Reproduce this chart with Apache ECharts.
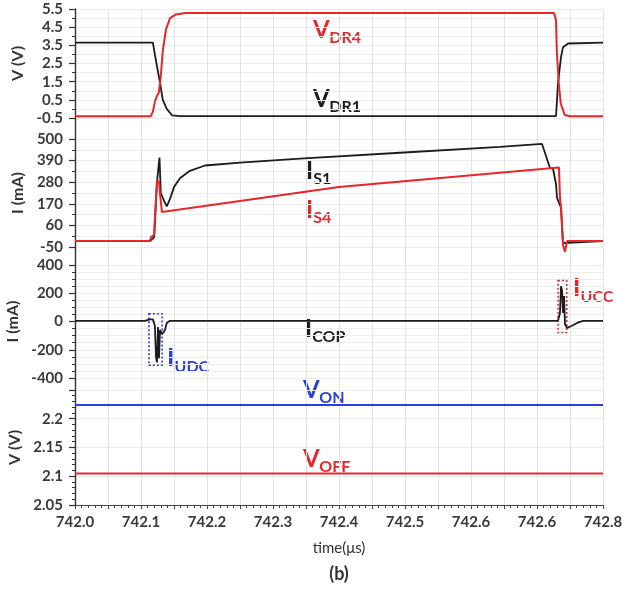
<!DOCTYPE html>
<html>
<head>
<meta charset="utf-8">
<script src="https://cdn.jsdelivr.net/npm/echarts@6/dist/echarts.min.js"></script>
<style>
  html, body { margin: 0; padding: 0; background: #fff; }
  #chart { width: 624px; height: 590px; }
</style>
</head>
<body>
<div id="chart"></div>
<script>
  // x axis tick labels (as printed on the figure)
  var xLabels = ['742.0', '742.1', '742.2', '742.3', '742.4', '742.5', '742.6', '742.6', '742.8'];

  // y tick values per panel
  var vdrTicks = [-0.5, 0.5, 1.5, 2.5, 3.5, 4.5, 5.5];
  var isTicks = [-50, 60, 170, 280, 390, 500];
  var copTicks = [-400, -200, 0, 200, 400];
  var vrefTicks = [2.05, 2.1, 2.15, 2.2, 2.25];

  // panel 1: gate drive voltages (V)
  var vdr1 = [[742.0, 3.65], [742.118, 3.65], [742.121, 3.0], [742.124, 2.4], [742.129, 1.4], [742.133, 0.5],
    [742.139, 0.0], [742.147, -0.35], [742.159, -0.4], [742.7288, -0.4], [742.7318, 1.4], [742.7364, 2.86],
    [742.7394, 3.4], [742.747, 3.6], [742.8, 3.65]];
  var vdr4 = [[742.0, -0.4], [742.115, -0.4], [742.118, -0.15], [742.121, 0.4], [742.124, 0.7], [742.127, 0.9],
    [742.130, 1.8], [742.133, 3.2], [742.138, 4.4], [742.144, 5.0], [742.153, 5.2], [742.167, 5.28],
    [742.7258, 5.28], [742.7288, 4.9], [742.730, 3.2], [742.733, 1.4], [742.736, 0.3], [742.742, -0.33],
    [742.75, -0.4], [742.8, -0.4]];

  // panel 2: switch currents (mA)
  var is1 = [[742.0, -20], [742.1136, -20], [742.12, 0], [742.1242, 280], [742.128, 405], [742.130, 225],
    [742.135, 185], [742.139, 157], [742.144, 195], [742.15, 255], [742.159, 300], [742.174, 338],
    [742.197, 365], [742.25, 380], [742.341, 400], [742.4924, 430], [742.644, 460], [742.7076, 475],
    [742.7197, 352], [742.7242, 350], [742.7288, 270], [742.7303, 200], [742.7333, 210], [742.7364, 150],
    [742.7394, -30], [742.7424, -20], [742.8, -20]];
  var is4 = [[742.0, -20], [742.1136, -20], [742.115, 0], [742.118, 10], [742.1197, 10], [742.1242, 290],
    [742.1273, 280], [742.1288, 220], [742.1318, 128], [742.4, 255], [742.7333, 355], [742.7348, 200],
    [742.7364, 150], [742.7394, -40], [742.7424, -75], [742.7455, -20], [742.8, -20]];

  // panel 3: output capacitor current (mA)
  var icop = [[742.0, 5], [742.106, 5], [742.1136, 15], [742.118, 15], [742.121, -30], [742.1227, -250],
    [742.1242, -290], [742.1258, -40], [742.1273, -260], [742.1288, -60], [742.1318, -90], [742.1364, -60],
    [742.139, -10], [742.1439, 5], [742.7318, 5], [742.7348, 60], [742.7364, 250], [742.738, 220],
    [742.7394, 60], [742.741, 180], [742.7424, -20], [742.7455, -45], [742.753, -30], [742.7606, -10],
    [742.7697, 5], [742.8, 5]];
  // dotted annotation boxes [t0, i0, t1, i1]
  var udcBox = [742.112, 55, 742.132, -310];
  var uccBox = [742.732, 290, 742.745, -78];

  // panel 4: comparator thresholds (V)
  var von = [[742.0, 2.224], [742.8, 2.224]];
  var voff = [[742.0, 2.105], [742.8, 2.105]];

  var FONT = 'Lato, "Open Sans", sans-serif';
  var BLACK = '#1c1c1c', RED = '#e8262a', BLUE = '#2a3fe0';
  var GRID_V = '#e3e3e3', GRID_H = '#ececec';

  var chart = echarts.init(document.getElementById('chart'));

  function tickLabel(maxShown) {
    return {
      fontFamily: FONT, fontSize: 15, fontWeight: 'bold', color: '#3a3a3a', margin: 12,
      formatter: function (v) {
        if (v > maxShown + 1e-9) return '';
        return String(+v.toFixed(2));
      }
    };
  }

  function panelY(idx, ticks, name, minorSplit, maxShown) {
    return {
      type: 'value', gridIndex: idx,
      min: ticks[0], max: ticks[ticks.length - 1], interval: ticks[1] - ticks[0],
      name: name, nameLocation: 'middle', nameRotate: 90, nameGap: 48,
      nameTextStyle: { fontFamily: FONT, fontSize: 16, fontWeight: 'bold', color: '#333' },
      axisLine: { show: false },
      axisTick: { show: true, length: 6, lineStyle: { color: '#333', width: 1.2 } },
      minorTick: { show: true, splitNumber: minorSplit, length: 3, lineStyle: { color: '#333' } },
      splitLine: { show: true, lineStyle: { color: GRID_H } },
      minorSplitLine: { show: true, lineStyle: { color: GRID_H } },
      axisLabel: tickLabel(maxShown === undefined ? ticks[ticks.length - 1] : maxShown)
    };
  }

  function hiddenX(idx) {
    return { type: 'value', gridIndex: idx, min: 742.0, max: 742.8, show: false };
  }

  function line(name, data, color, xi, width) {
    return {
      name: name, type: 'line', xAxisIndex: xi, yAxisIndex: xi, data: data,
      showSymbol: false, clip: false, lineStyle: { color: color, width: width || 1.8 },
      itemStyle: { color: color }
    };
  }

  function label(x, y, main, sub, color, big, small) {
    return [
      { type: 'text', x: x, y: y, style: { text: main, fill: color, fontFamily: FONT, fontSize: big, fontWeight: 'bold', verticalAlign: 'middle' } },
      { type: 'text', x: x + big * 0.3 + (main === 'V' ? big * 0.38 : 0), y: y + big * 0.34,
        style: { text: sub, fill: color, fontFamily: FONT, fontSize: small, fontWeight: 'bold', verticalAlign: 'middle' } }
    ];
  }

  function grid(top, height, bottom) {
    var g = { left: 75, right: 21, top: top, outerBoundsMode: 'none', containLabel: false };
    if (height !== null) g.height = height; else g.bottom = bottom;
    return g;
  }

  var grids = [
    grid(9, null, 85),      // background: vertical grid, left axis, time axis
    grid(9, 109),
    grid(139, 108),
    grid(265, 113),
    grid(390, 115)
  ];

  var copSeries = line('ICOP', icop, BLACK, 3);
  copSeries.markArea = {
    silent: true,
    data: [
      [{ xAxis: udcBox[0], yAxis: udcBox[1], itemStyle: { color: 'rgba(0,0,0,0)', borderColor: BLUE, borderWidth: 1.6, borderType: [2, 2] } },
       { xAxis: udcBox[2], yAxis: udcBox[3] }],
      [{ xAxis: uccBox[0], yAxis: uccBox[1], itemStyle: { color: 'rgba(0,0,0,0)', borderColor: RED, borderWidth: 1.6, borderType: [2, 2] } },
       { xAxis: uccBox[2], yAxis: uccBox[3] }]
    ]
  };

  var graphics = [].concat(
    label(313, 30, 'V', 'DR4', RED, 24, 16),
    label(313, 99, 'V', 'DR1', BLACK, 24, 16),
    label(306, 171, 'I', 'S1', BLACK, 24, 16),
    label(306, 210, 'I', 'S4', RED, 24, 16),
    label(305, 329, 'I', 'COP', BLACK, 24, 16),
    label(167, 358, 'I', 'UDC', BLUE, 25, 16),
    label(573, 288, 'I', 'UCC', RED, 25, 16),
    label(303, 390, 'V', 'ON', BLUE, 24, 16),
    label(303, 459, 'V', 'OFF', RED, 24, 16),
    [{ type: 'text', x: 339, y: 574, style: { text: '(b)', fill: '#333', fontFamily: FONT, fontSize: 18, fontWeight: 'bold', align: 'center', verticalAlign: 'middle' } }]
  );

  chart.setOption({
    backgroundColor: '#fff',
    animation: false,
    grid: grids,
    xAxis: [
      {
        type: 'value', gridIndex: 0, min: 742.0, max: 742.8, interval: 0.05,
        name: 'time(μs)', nameLocation: 'middle', nameGap: 36,
        nameTextStyle: { fontFamily: FONT, fontSize: 15, color: '#333' },
        axisLine: { show: true, lineStyle: { color: '#444', width: 1.2 } },
        axisTick: { show: true, length: 4, lineStyle: { color: '#444' } },
        minorTick: { show: true, splitNumber: 5, length: 3, lineStyle: { color: '#444' } },
        splitLine: { show: true, lineStyle: { color: GRID_V } },
        axisLabel: {
          fontFamily: FONT, fontSize: 15, fontWeight: 'bold', color: '#3a3a3a', margin: 10,
          formatter: function (v) {
            var k = Math.round((v - 742) * 100);
            if (k % 10 !== 0) return '';
            return xLabels[k / 10];
          }
        }
      },
      hiddenX(1), hiddenX(2), hiddenX(3), hiddenX(4)
    ],
    yAxis: [
      {
        type: 'value', gridIndex: 0, min: 0, max: 1,
        axisLine: { show: true, lineStyle: { color: '#333', width: 1.4 } },
        axisTick: { show: false }, axisLabel: { show: false }, splitLine: { show: false }
      },
      panelY(1, vdrTicks, 'V (V)', 2),
      panelY(2, isTicks, 'I (mA)', 2),
      panelY(3, copTicks, 'I (mA)', 4),
      (function () {
        var a = panelY(4, vrefTicks, 'V (V)', 5, 2.2);
        a.minorSplitLine = { show: false };
        return a;
      })()
    ],
    series: [
      line('VDR1', vdr1, BLACK, 1),
      line('VDR4', vdr4, RED, 1, 2),
      line('IS1', is1, BLACK, 2),
      line('IS4', is4, RED, 2, 2),
      copSeries,
      line('VON', von, BLUE, 4, 2),
      line('VOFF', voff, RED, 4, 2)
    ],
    graphic: graphics
  });
</script>
</body>
</html>
